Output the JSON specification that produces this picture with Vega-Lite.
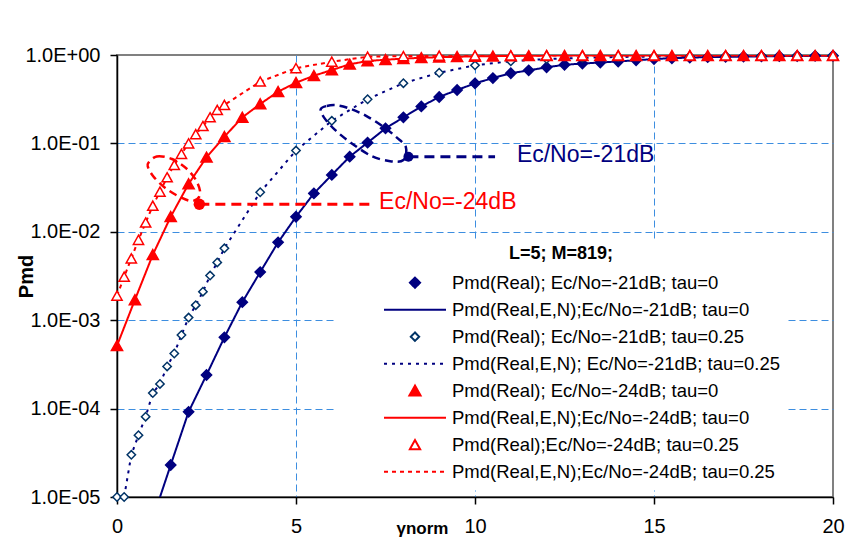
{
  "$schema": "https://vega.github.io/schema/vega-lite/v6.json",
  "width": 716,
  "height": 442,
  "autosize": {"type": "none"},
  "padding": {"left": 117, "top": 55, "right": 28, "bottom": 54},
  "background": "white",
  "config": {
    "font": "Liberation Sans",
    "view": {"stroke": "#808080", "strokeWidth": 2},
    "axis": {
      "labelFont": "Liberation Sans", "titleFont": "Liberation Sans",
      "labelColor": "black", "titleColor": "black",
      "domainColor": "black", "domainWidth": 1.5,
      "tickColor": "black", "tickWidth": 1.5, "tickSize": 7,
      "gridDash": [7, 4], "gridWidth": 1
    },
    "legend": {"labelFont": "Liberation Sans", "titleFont": "Liberation Sans"}
  },
  "datasets": {
    "pts": [
      {"series": "Pmd(Real); Ec/No=-21dB; tau=0", "x": 1.5, "pmd": 0.000023},
      {"series": "Pmd(Real); Ec/No=-21dB; tau=0", "x": 2.0, "pmd": 0.000092},
      {"series": "Pmd(Real); Ec/No=-21dB; tau=0", "x": 2.5, "pmd": 0.00024},
      {"series": "Pmd(Real); Ec/No=-21dB; tau=0", "x": 3.0, "pmd": 0.00064},
      {"series": "Pmd(Real); Ec/No=-21dB; tau=0", "x": 3.5, "pmd": 0.0016},
      {"series": "Pmd(Real); Ec/No=-21dB; tau=0", "x": 4.0, "pmd": 0.0035},
      {"series": "Pmd(Real); Ec/No=-21dB; tau=0", "x": 4.5, "pmd": 0.0076},
      {"series": "Pmd(Real); Ec/No=-21dB; tau=0", "x": 5.0, "pmd": 0.0148},
      {"series": "Pmd(Real); Ec/No=-21dB; tau=0", "x": 5.5, "pmd": 0.0272},
      {"series": "Pmd(Real); Ec/No=-21dB; tau=0", "x": 6.0, "pmd": 0.044},
      {"series": "Pmd(Real); Ec/No=-21dB; tau=0", "x": 6.5, "pmd": 0.0708},
      {"series": "Pmd(Real); Ec/No=-21dB; tau=0", "x": 7.0, "pmd": 0.102},
      {"series": "Pmd(Real); Ec/No=-21dB; tau=0", "x": 7.5, "pmd": 0.148},
      {"series": "Pmd(Real); Ec/No=-21dB; tau=0", "x": 8.0, "pmd": 0.197},
      {"series": "Pmd(Real); Ec/No=-21dB; tau=0", "x": 8.5, "pmd": 0.262},
      {"series": "Pmd(Real); Ec/No=-21dB; tau=0", "x": 9.0, "pmd": 0.335},
      {"series": "Pmd(Real); Ec/No=-21dB; tau=0", "x": 9.5, "pmd": 0.402},
      {"series": "Pmd(Real); Ec/No=-21dB; tau=0", "x": 10.0, "pmd": 0.478},
      {"series": "Pmd(Real); Ec/No=-21dB; tau=0", "x": 10.5, "pmd": 0.548},
      {"series": "Pmd(Real); Ec/No=-21dB; tau=0", "x": 11.0, "pmd": 0.622},
      {"series": "Pmd(Real); Ec/No=-21dB; tau=0", "x": 11.5, "pmd": 0.67},
      {"series": "Pmd(Real); Ec/No=-21dB; tau=0", "x": 12.0, "pmd": 0.726},
      {"series": "Pmd(Real); Ec/No=-21dB; tau=0", "x": 12.5, "pmd": 0.775},
      {"series": "Pmd(Real); Ec/No=-21dB; tau=0", "x": 13.0, "pmd": 0.8},
      {"series": "Pmd(Real); Ec/No=-21dB; tau=0", "x": 13.5, "pmd": 0.822},
      {"series": "Pmd(Real); Ec/No=-21dB; tau=0", "x": 14.0, "pmd": 0.845},
      {"series": "Pmd(Real); Ec/No=-21dB; tau=0", "x": 14.5, "pmd": 0.872},
      {"series": "Pmd(Real); Ec/No=-21dB; tau=0", "x": 15.0, "pmd": 0.9},
      {"series": "Pmd(Real); Ec/No=-21dB; tau=0", "x": 15.5, "pmd": 0.92},
      {"series": "Pmd(Real); Ec/No=-21dB; tau=0", "x": 16.0, "pmd": 0.935},
      {"series": "Pmd(Real); Ec/No=-21dB; tau=0", "x": 16.5, "pmd": 0.945},
      {"series": "Pmd(Real); Ec/No=-21dB; tau=0", "x": 17.0, "pmd": 0.955},
      {"series": "Pmd(Real); Ec/No=-21dB; tau=0", "x": 17.5, "pmd": 0.96},
      {"series": "Pmd(Real); Ec/No=-21dB; tau=0", "x": 18.0, "pmd": 0.965},
      {"series": "Pmd(Real); Ec/No=-21dB; tau=0", "x": 18.5, "pmd": 0.97},
      {"series": "Pmd(Real); Ec/No=-21dB; tau=0", "x": 19.0, "pmd": 0.975},
      {"series": "Pmd(Real); Ec/No=-21dB; tau=0", "x": 19.5, "pmd": 0.978},
      {"series": "Pmd(Real); Ec/No=-21dB; tau=0", "x": 20.0, "pmd": 0.98},
      {"series": "Pmd(Real); Ec/No=-21dB; tau=0.25", "x": 0.0, "pmd": 0.00001},
      {"series": "Pmd(Real); Ec/No=-21dB; tau=0.25", "x": 0.2, "pmd": 0.00001},
      {"series": "Pmd(Real); Ec/No=-21dB; tau=0.25", "x": 0.4, "pmd": 0.00003},
      {"series": "Pmd(Real); Ec/No=-21dB; tau=0.25", "x": 0.6, "pmd": 0.00005},
      {"series": "Pmd(Real); Ec/No=-21dB; tau=0.25", "x": 0.8, "pmd": 0.000081},
      {"series": "Pmd(Real); Ec/No=-21dB; tau=0.25", "x": 1.0, "pmd": 0.00015},
      {"series": "Pmd(Real); Ec/No=-21dB; tau=0.25", "x": 1.2, "pmd": 0.00019},
      {"series": "Pmd(Real); Ec/No=-21dB; tau=0.25", "x": 1.4, "pmd": 0.0003},
      {"series": "Pmd(Real); Ec/No=-21dB; tau=0.25", "x": 1.6, "pmd": 0.00042},
      {"series": "Pmd(Real); Ec/No=-21dB; tau=0.25", "x": 1.8, "pmd": 0.00068},
      {"series": "Pmd(Real); Ec/No=-21dB; tau=0.25", "x": 2.0, "pmd": 0.00107},
      {"series": "Pmd(Real); Ec/No=-21dB; tau=0.25", "x": 2.2, "pmd": 0.00148},
      {"series": "Pmd(Real); Ec/No=-21dB; tau=0.25", "x": 2.4, "pmd": 0.0021},
      {"series": "Pmd(Real); Ec/No=-21dB; tau=0.25", "x": 2.6, "pmd": 0.0032},
      {"series": "Pmd(Real); Ec/No=-21dB; tau=0.25", "x": 2.8, "pmd": 0.0045},
      {"series": "Pmd(Real); Ec/No=-21dB; tau=0.25", "x": 3.0, "pmd": 0.0065},
      {"series": "Pmd(Real); Ec/No=-21dB; tau=0.25", "x": 4.0, "pmd": 0.028},
      {"series": "Pmd(Real); Ec/No=-21dB; tau=0.25", "x": 5.0, "pmd": 0.083},
      {"series": "Pmd(Real); Ec/No=-21dB; tau=0.25", "x": 6.0, "pmd": 0.18},
      {"series": "Pmd(Real); Ec/No=-21dB; tau=0.25", "x": 7.0, "pmd": 0.316},
      {"series": "Pmd(Real); Ec/No=-21dB; tau=0.25", "x": 8.0, "pmd": 0.48},
      {"series": "Pmd(Real); Ec/No=-21dB; tau=0.25", "x": 9.0, "pmd": 0.63},
      {"series": "Pmd(Real); Ec/No=-21dB; tau=0.25", "x": 10.0, "pmd": 0.765},
      {"series": "Pmd(Real); Ec/No=-21dB; tau=0.25", "x": 11.0, "pmd": 0.85},
      {"series": "Pmd(Real); Ec/No=-21dB; tau=0.25", "x": 12.0, "pmd": 0.9},
      {"series": "Pmd(Real); Ec/No=-21dB; tau=0.25", "x": 13.0, "pmd": 0.93},
      {"series": "Pmd(Real); Ec/No=-21dB; tau=0.25", "x": 14.0, "pmd": 0.95},
      {"series": "Pmd(Real); Ec/No=-21dB; tau=0.25", "x": 15.0, "pmd": 0.96},
      {"series": "Pmd(Real); Ec/No=-21dB; tau=0.25", "x": 16.0, "pmd": 0.97},
      {"series": "Pmd(Real); Ec/No=-21dB; tau=0.25", "x": 17.0, "pmd": 0.975},
      {"series": "Pmd(Real); Ec/No=-21dB; tau=0.25", "x": 18.0, "pmd": 0.978},
      {"series": "Pmd(Real); Ec/No=-21dB; tau=0.25", "x": 19.0, "pmd": 0.98},
      {"series": "Pmd(Real); Ec/No=-21dB; tau=0.25", "x": 20.0, "pmd": 0.98},
      {"series": "Pmd(Real); Ec/No=-24dB; tau=0", "x": 0.0, "pmd": 0.000515},
      {"series": "Pmd(Real); Ec/No=-24dB; tau=0", "x": 0.5, "pmd": 0.0017},
      {"series": "Pmd(Real); Ec/No=-24dB; tau=0", "x": 1.0, "pmd": 0.0055},
      {"series": "Pmd(Real); Ec/No=-24dB; tau=0", "x": 1.5, "pmd": 0.0148},
      {"series": "Pmd(Real); Ec/No=-24dB; tau=0", "x": 2.0, "pmd": 0.0348},
      {"series": "Pmd(Real); Ec/No=-24dB; tau=0", "x": 2.5, "pmd": 0.0696},
      {"series": "Pmd(Real); Ec/No=-24dB; tau=0", "x": 3.0, "pmd": 0.119},
      {"series": "Pmd(Real); Ec/No=-24dB; tau=0", "x": 3.5, "pmd": 0.197},
      {"series": "Pmd(Real); Ec/No=-24dB; tau=0", "x": 4.0, "pmd": 0.279},
      {"series": "Pmd(Real); Ec/No=-24dB; tau=0", "x": 4.5, "pmd": 0.385},
      {"series": "Pmd(Real); Ec/No=-24dB; tau=0", "x": 5.0, "pmd": 0.486},
      {"series": "Pmd(Real); Ec/No=-24dB; tau=0", "x": 5.5, "pmd": 0.583},
      {"series": "Pmd(Real); Ec/No=-24dB; tau=0", "x": 6.0, "pmd": 0.676},
      {"series": "Pmd(Real); Ec/No=-24dB; tau=0", "x": 6.5, "pmd": 0.785},
      {"series": "Pmd(Real); Ec/No=-24dB; tau=0", "x": 7.0, "pmd": 0.855},
      {"series": "Pmd(Real); Ec/No=-24dB; tau=0", "x": 7.5, "pmd": 0.885},
      {"series": "Pmd(Real); Ec/No=-24dB; tau=0", "x": 8.0, "pmd": 0.91},
      {"series": "Pmd(Real); Ec/No=-24dB; tau=0", "x": 8.5, "pmd": 0.93},
      {"series": "Pmd(Real); Ec/No=-24dB; tau=0", "x": 9.0, "pmd": 0.945},
      {"series": "Pmd(Real); Ec/No=-24dB; tau=0", "x": 9.5, "pmd": 0.955},
      {"series": "Pmd(Real); Ec/No=-24dB; tau=0", "x": 10.0, "pmd": 0.965},
      {"series": "Pmd(Real); Ec/No=-24dB; tau=0", "x": 10.5, "pmd": 0.97},
      {"series": "Pmd(Real); Ec/No=-24dB; tau=0", "x": 11.0, "pmd": 0.975},
      {"series": "Pmd(Real); Ec/No=-24dB; tau=0", "x": 11.5, "pmd": 0.98},
      {"series": "Pmd(Real); Ec/No=-24dB; tau=0", "x": 12.0, "pmd": 0.985},
      {"series": "Pmd(Real); Ec/No=-24dB; tau=0", "x": 12.5, "pmd": 0.985},
      {"series": "Pmd(Real); Ec/No=-24dB; tau=0", "x": 13.0, "pmd": 0.985},
      {"series": "Pmd(Real); Ec/No=-24dB; tau=0", "x": 13.5, "pmd": 0.985},
      {"series": "Pmd(Real); Ec/No=-24dB; tau=0", "x": 14.0, "pmd": 0.985},
      {"series": "Pmd(Real); Ec/No=-24dB; tau=0", "x": 14.5, "pmd": 0.985},
      {"series": "Pmd(Real); Ec/No=-24dB; tau=0", "x": 15.0, "pmd": 0.985},
      {"series": "Pmd(Real); Ec/No=-24dB; tau=0", "x": 15.5, "pmd": 0.985},
      {"series": "Pmd(Real); Ec/No=-24dB; tau=0", "x": 16.0, "pmd": 0.985},
      {"series": "Pmd(Real); Ec/No=-24dB; tau=0", "x": 16.5, "pmd": 0.985},
      {"series": "Pmd(Real); Ec/No=-24dB; tau=0", "x": 17.0, "pmd": 0.985},
      {"series": "Pmd(Real); Ec/No=-24dB; tau=0", "x": 17.5, "pmd": 0.985},
      {"series": "Pmd(Real); Ec/No=-24dB; tau=0", "x": 18.0, "pmd": 0.985},
      {"series": "Pmd(Real); Ec/No=-24dB; tau=0", "x": 18.5, "pmd": 0.985},
      {"series": "Pmd(Real); Ec/No=-24dB; tau=0", "x": 19.0, "pmd": 0.985},
      {"series": "Pmd(Real); Ec/No=-24dB; tau=0", "x": 19.5, "pmd": 0.985},
      {"series": "Pmd(Real); Ec/No=-24dB; tau=0", "x": 20.0, "pmd": 0.985},
      {"series": "Pmd(Real);Ec/No=-24dB; tau=0.25", "x": 0.0, "pmd": 0.00189},
      {"series": "Pmd(Real);Ec/No=-24dB; tau=0.25", "x": 0.2, "pmd": 0.0031},
      {"series": "Pmd(Real);Ec/No=-24dB; tau=0.25", "x": 0.4, "pmd": 0.005},
      {"series": "Pmd(Real);Ec/No=-24dB; tau=0.25", "x": 0.6, "pmd": 0.0081},
      {"series": "Pmd(Real);Ec/No=-24dB; tau=0.25", "x": 0.8, "pmd": 0.0127},
      {"series": "Pmd(Real);Ec/No=-24dB; tau=0.25", "x": 1.0, "pmd": 0.0197},
      {"series": "Pmd(Real);Ec/No=-24dB; tau=0.25", "x": 1.2, "pmd": 0.0284},
      {"series": "Pmd(Real);Ec/No=-24dB; tau=0.25", "x": 1.4, "pmd": 0.0413},
      {"series": "Pmd(Real);Ec/No=-24dB; tau=0.25", "x": 1.6, "pmd": 0.057},
      {"series": "Pmd(Real);Ec/No=-24dB; tau=0.25", "x": 1.8, "pmd": 0.076},
      {"series": "Pmd(Real);Ec/No=-24dB; tau=0.25", "x": 2.0, "pmd": 0.1},
      {"series": "Pmd(Real);Ec/No=-24dB; tau=0.25", "x": 2.2, "pmd": 0.127},
      {"series": "Pmd(Real);Ec/No=-24dB; tau=0.25", "x": 2.4, "pmd": 0.157},
      {"series": "Pmd(Real);Ec/No=-24dB; tau=0.25", "x": 2.6, "pmd": 0.197},
      {"series": "Pmd(Real);Ec/No=-24dB; tau=0.25", "x": 2.8, "pmd": 0.239},
      {"series": "Pmd(Real);Ec/No=-24dB; tau=0.25", "x": 3.0, "pmd": 0.272},
      {"series": "Pmd(Real);Ec/No=-24dB; tau=0.25", "x": 4.0, "pmd": 0.5},
      {"series": "Pmd(Real);Ec/No=-24dB; tau=0.25", "x": 5.0, "pmd": 0.71},
      {"series": "Pmd(Real);Ec/No=-24dB; tau=0.25", "x": 6.0, "pmd": 0.84},
      {"series": "Pmd(Real);Ec/No=-24dB; tau=0.25", "x": 7.0, "pmd": 0.957},
      {"series": "Pmd(Real);Ec/No=-24dB; tau=0.25", "x": 8.0, "pmd": 0.97},
      {"series": "Pmd(Real);Ec/No=-24dB; tau=0.25", "x": 9.0, "pmd": 0.98},
      {"series": "Pmd(Real);Ec/No=-24dB; tau=0.25", "x": 10.0, "pmd": 0.985},
      {"series": "Pmd(Real);Ec/No=-24dB; tau=0.25", "x": 11.0, "pmd": 0.985},
      {"series": "Pmd(Real);Ec/No=-24dB; tau=0.25", "x": 12.0, "pmd": 0.985},
      {"series": "Pmd(Real);Ec/No=-24dB; tau=0.25", "x": 13.0, "pmd": 0.985},
      {"series": "Pmd(Real);Ec/No=-24dB; tau=0.25", "x": 14.0, "pmd": 0.985},
      {"series": "Pmd(Real);Ec/No=-24dB; tau=0.25", "x": 15.0, "pmd": 0.985},
      {"series": "Pmd(Real);Ec/No=-24dB; tau=0.25", "x": 16.0, "pmd": 0.985},
      {"series": "Pmd(Real);Ec/No=-24dB; tau=0.25", "x": 17.0, "pmd": 0.985},
      {"series": "Pmd(Real);Ec/No=-24dB; tau=0.25", "x": 18.0, "pmd": 0.985},
      {"series": "Pmd(Real);Ec/No=-24dB; tau=0.25", "x": 19.0, "pmd": 0.985},
      {"series": "Pmd(Real);Ec/No=-24dB; tau=0.25", "x": 20.0, "pmd": 0.985}
    ],
    "lines": [
      {"series": "Pmd(Real,E,N);Ec/No=-21dB; tau=0", "x": 1.0, "pmd": 0.0000057},
      {"series": "Pmd(Real,E,N);Ec/No=-21dB; tau=0", "x": 1.5, "pmd": 0.000023},
      {"series": "Pmd(Real,E,N);Ec/No=-21dB; tau=0", "x": 2.0, "pmd": 0.000092},
      {"series": "Pmd(Real,E,N);Ec/No=-21dB; tau=0", "x": 2.5, "pmd": 0.00024},
      {"series": "Pmd(Real,E,N);Ec/No=-21dB; tau=0", "x": 3.0, "pmd": 0.00064},
      {"series": "Pmd(Real,E,N);Ec/No=-21dB; tau=0", "x": 3.5, "pmd": 0.0016},
      {"series": "Pmd(Real,E,N);Ec/No=-21dB; tau=0", "x": 4.0, "pmd": 0.0035},
      {"series": "Pmd(Real,E,N);Ec/No=-21dB; tau=0", "x": 4.5, "pmd": 0.0076},
      {"series": "Pmd(Real,E,N);Ec/No=-21dB; tau=0", "x": 5.0, "pmd": 0.0148},
      {"series": "Pmd(Real,E,N);Ec/No=-21dB; tau=0", "x": 5.5, "pmd": 0.0272},
      {"series": "Pmd(Real,E,N);Ec/No=-21dB; tau=0", "x": 6.0, "pmd": 0.044},
      {"series": "Pmd(Real,E,N);Ec/No=-21dB; tau=0", "x": 6.5, "pmd": 0.0708},
      {"series": "Pmd(Real,E,N);Ec/No=-21dB; tau=0", "x": 7.0, "pmd": 0.102},
      {"series": "Pmd(Real,E,N);Ec/No=-21dB; tau=0", "x": 7.5, "pmd": 0.148},
      {"series": "Pmd(Real,E,N);Ec/No=-21dB; tau=0", "x": 8.0, "pmd": 0.197},
      {"series": "Pmd(Real,E,N);Ec/No=-21dB; tau=0", "x": 8.5, "pmd": 0.262},
      {"series": "Pmd(Real,E,N);Ec/No=-21dB; tau=0", "x": 9.0, "pmd": 0.335},
      {"series": "Pmd(Real,E,N);Ec/No=-21dB; tau=0", "x": 9.5, "pmd": 0.402},
      {"series": "Pmd(Real,E,N);Ec/No=-21dB; tau=0", "x": 10.0, "pmd": 0.478},
      {"series": "Pmd(Real,E,N);Ec/No=-21dB; tau=0", "x": 10.5, "pmd": 0.548},
      {"series": "Pmd(Real,E,N);Ec/No=-21dB; tau=0", "x": 11.0, "pmd": 0.622},
      {"series": "Pmd(Real,E,N);Ec/No=-21dB; tau=0", "x": 11.5, "pmd": 0.67},
      {"series": "Pmd(Real,E,N);Ec/No=-21dB; tau=0", "x": 12.0, "pmd": 0.726},
      {"series": "Pmd(Real,E,N);Ec/No=-21dB; tau=0", "x": 12.5, "pmd": 0.775},
      {"series": "Pmd(Real,E,N);Ec/No=-21dB; tau=0", "x": 13.0, "pmd": 0.8},
      {"series": "Pmd(Real,E,N);Ec/No=-21dB; tau=0", "x": 13.5, "pmd": 0.822},
      {"series": "Pmd(Real,E,N);Ec/No=-21dB; tau=0", "x": 14.0, "pmd": 0.845},
      {"series": "Pmd(Real,E,N);Ec/No=-21dB; tau=0", "x": 14.5, "pmd": 0.872},
      {"series": "Pmd(Real,E,N);Ec/No=-21dB; tau=0", "x": 15.0, "pmd": 0.9},
      {"series": "Pmd(Real,E,N);Ec/No=-21dB; tau=0", "x": 15.5, "pmd": 0.92},
      {"series": "Pmd(Real,E,N);Ec/No=-21dB; tau=0", "x": 16.0, "pmd": 0.935},
      {"series": "Pmd(Real,E,N);Ec/No=-21dB; tau=0", "x": 16.5, "pmd": 0.945},
      {"series": "Pmd(Real,E,N);Ec/No=-21dB; tau=0", "x": 17.0, "pmd": 0.955},
      {"series": "Pmd(Real,E,N);Ec/No=-21dB; tau=0", "x": 17.5, "pmd": 0.96},
      {"series": "Pmd(Real,E,N);Ec/No=-21dB; tau=0", "x": 18.0, "pmd": 0.965},
      {"series": "Pmd(Real,E,N);Ec/No=-21dB; tau=0", "x": 18.5, "pmd": 0.97},
      {"series": "Pmd(Real,E,N);Ec/No=-21dB; tau=0", "x": 19.0, "pmd": 0.975},
      {"series": "Pmd(Real,E,N);Ec/No=-21dB; tau=0", "x": 19.5, "pmd": 0.978},
      {"series": "Pmd(Real,E,N);Ec/No=-21dB; tau=0", "x": 20.0, "pmd": 0.98},
      {"series": "Pmd(Real,E,N); Ec/No=-21dB; tau=0.25", "x": 0.2, "pmd": 0.00001},
      {"series": "Pmd(Real,E,N); Ec/No=-21dB; tau=0.25", "x": 0.4, "pmd": 0.00003},
      {"series": "Pmd(Real,E,N); Ec/No=-21dB; tau=0.25", "x": 0.6, "pmd": 0.00005},
      {"series": "Pmd(Real,E,N); Ec/No=-21dB; tau=0.25", "x": 0.8, "pmd": 0.000081},
      {"series": "Pmd(Real,E,N); Ec/No=-21dB; tau=0.25", "x": 1.0, "pmd": 0.00015},
      {"series": "Pmd(Real,E,N); Ec/No=-21dB; tau=0.25", "x": 1.2, "pmd": 0.00019},
      {"series": "Pmd(Real,E,N); Ec/No=-21dB; tau=0.25", "x": 1.4, "pmd": 0.0003},
      {"series": "Pmd(Real,E,N); Ec/No=-21dB; tau=0.25", "x": 1.6, "pmd": 0.00042},
      {"series": "Pmd(Real,E,N); Ec/No=-21dB; tau=0.25", "x": 1.8, "pmd": 0.00068},
      {"series": "Pmd(Real,E,N); Ec/No=-21dB; tau=0.25", "x": 2.0, "pmd": 0.00107},
      {"series": "Pmd(Real,E,N); Ec/No=-21dB; tau=0.25", "x": 2.2, "pmd": 0.00148},
      {"series": "Pmd(Real,E,N); Ec/No=-21dB; tau=0.25", "x": 2.4, "pmd": 0.0021},
      {"series": "Pmd(Real,E,N); Ec/No=-21dB; tau=0.25", "x": 2.6, "pmd": 0.0032},
      {"series": "Pmd(Real,E,N); Ec/No=-21dB; tau=0.25", "x": 2.8, "pmd": 0.0045},
      {"series": "Pmd(Real,E,N); Ec/No=-21dB; tau=0.25", "x": 3.0, "pmd": 0.0065},
      {"series": "Pmd(Real,E,N); Ec/No=-21dB; tau=0.25", "x": 4.0, "pmd": 0.028},
      {"series": "Pmd(Real,E,N); Ec/No=-21dB; tau=0.25", "x": 5.0, "pmd": 0.083},
      {"series": "Pmd(Real,E,N); Ec/No=-21dB; tau=0.25", "x": 6.0, "pmd": 0.18},
      {"series": "Pmd(Real,E,N); Ec/No=-21dB; tau=0.25", "x": 7.0, "pmd": 0.316},
      {"series": "Pmd(Real,E,N); Ec/No=-21dB; tau=0.25", "x": 8.0, "pmd": 0.48},
      {"series": "Pmd(Real,E,N); Ec/No=-21dB; tau=0.25", "x": 9.0, "pmd": 0.63},
      {"series": "Pmd(Real,E,N); Ec/No=-21dB; tau=0.25", "x": 10.0, "pmd": 0.765},
      {"series": "Pmd(Real,E,N); Ec/No=-21dB; tau=0.25", "x": 11.0, "pmd": 0.85},
      {"series": "Pmd(Real,E,N); Ec/No=-21dB; tau=0.25", "x": 12.0, "pmd": 0.9},
      {"series": "Pmd(Real,E,N); Ec/No=-21dB; tau=0.25", "x": 13.0, "pmd": 0.93},
      {"series": "Pmd(Real,E,N); Ec/No=-21dB; tau=0.25", "x": 14.0, "pmd": 0.95},
      {"series": "Pmd(Real,E,N); Ec/No=-21dB; tau=0.25", "x": 15.0, "pmd": 0.96},
      {"series": "Pmd(Real,E,N); Ec/No=-21dB; tau=0.25", "x": 16.0, "pmd": 0.97},
      {"series": "Pmd(Real,E,N); Ec/No=-21dB; tau=0.25", "x": 17.0, "pmd": 0.975},
      {"series": "Pmd(Real,E,N); Ec/No=-21dB; tau=0.25", "x": 18.0, "pmd": 0.978},
      {"series": "Pmd(Real,E,N); Ec/No=-21dB; tau=0.25", "x": 19.0, "pmd": 0.98},
      {"series": "Pmd(Real,E,N); Ec/No=-21dB; tau=0.25", "x": 20.0, "pmd": 0.98},
      {"series": "Pmd(Real,E,N);Ec/No=-24dB; tau=0", "x": 0.0, "pmd": 0.000515},
      {"series": "Pmd(Real,E,N);Ec/No=-24dB; tau=0", "x": 0.5, "pmd": 0.0017},
      {"series": "Pmd(Real,E,N);Ec/No=-24dB; tau=0", "x": 1.0, "pmd": 0.0055},
      {"series": "Pmd(Real,E,N);Ec/No=-24dB; tau=0", "x": 1.5, "pmd": 0.0148},
      {"series": "Pmd(Real,E,N);Ec/No=-24dB; tau=0", "x": 2.0, "pmd": 0.0348},
      {"series": "Pmd(Real,E,N);Ec/No=-24dB; tau=0", "x": 2.5, "pmd": 0.0696},
      {"series": "Pmd(Real,E,N);Ec/No=-24dB; tau=0", "x": 3.0, "pmd": 0.119},
      {"series": "Pmd(Real,E,N);Ec/No=-24dB; tau=0", "x": 3.5, "pmd": 0.197},
      {"series": "Pmd(Real,E,N);Ec/No=-24dB; tau=0", "x": 4.0, "pmd": 0.279},
      {"series": "Pmd(Real,E,N);Ec/No=-24dB; tau=0", "x": 4.5, "pmd": 0.385},
      {"series": "Pmd(Real,E,N);Ec/No=-24dB; tau=0", "x": 5.0, "pmd": 0.486},
      {"series": "Pmd(Real,E,N);Ec/No=-24dB; tau=0", "x": 5.5, "pmd": 0.583},
      {"series": "Pmd(Real,E,N);Ec/No=-24dB; tau=0", "x": 6.0, "pmd": 0.676},
      {"series": "Pmd(Real,E,N);Ec/No=-24dB; tau=0", "x": 6.5, "pmd": 0.785},
      {"series": "Pmd(Real,E,N);Ec/No=-24dB; tau=0", "x": 7.0, "pmd": 0.855},
      {"series": "Pmd(Real,E,N);Ec/No=-24dB; tau=0", "x": 7.5, "pmd": 0.885},
      {"series": "Pmd(Real,E,N);Ec/No=-24dB; tau=0", "x": 8.0, "pmd": 0.91},
      {"series": "Pmd(Real,E,N);Ec/No=-24dB; tau=0", "x": 8.5, "pmd": 0.93},
      {"series": "Pmd(Real,E,N);Ec/No=-24dB; tau=0", "x": 9.0, "pmd": 0.945},
      {"series": "Pmd(Real,E,N);Ec/No=-24dB; tau=0", "x": 9.5, "pmd": 0.955},
      {"series": "Pmd(Real,E,N);Ec/No=-24dB; tau=0", "x": 10.0, "pmd": 0.965},
      {"series": "Pmd(Real,E,N);Ec/No=-24dB; tau=0", "x": 10.5, "pmd": 0.97},
      {"series": "Pmd(Real,E,N);Ec/No=-24dB; tau=0", "x": 11.0, "pmd": 0.975},
      {"series": "Pmd(Real,E,N);Ec/No=-24dB; tau=0", "x": 11.5, "pmd": 0.98},
      {"series": "Pmd(Real,E,N);Ec/No=-24dB; tau=0", "x": 12.0, "pmd": 0.985},
      {"series": "Pmd(Real,E,N);Ec/No=-24dB; tau=0", "x": 16.0, "pmd": 0.985},
      {"series": "Pmd(Real,E,N);Ec/No=-24dB; tau=0", "x": 20.0, "pmd": 0.985},
      {"series": "Pmd(Real,E,N);Ec/No=-24dB; tau=0.25", "x": 0.0, "pmd": 0.00189},
      {"series": "Pmd(Real,E,N);Ec/No=-24dB; tau=0.25", "x": 0.2, "pmd": 0.0031},
      {"series": "Pmd(Real,E,N);Ec/No=-24dB; tau=0.25", "x": 0.4, "pmd": 0.005},
      {"series": "Pmd(Real,E,N);Ec/No=-24dB; tau=0.25", "x": 0.6, "pmd": 0.0081},
      {"series": "Pmd(Real,E,N);Ec/No=-24dB; tau=0.25", "x": 0.8, "pmd": 0.0127},
      {"series": "Pmd(Real,E,N);Ec/No=-24dB; tau=0.25", "x": 1.0, "pmd": 0.0197},
      {"series": "Pmd(Real,E,N);Ec/No=-24dB; tau=0.25", "x": 1.2, "pmd": 0.0284},
      {"series": "Pmd(Real,E,N);Ec/No=-24dB; tau=0.25", "x": 1.4, "pmd": 0.0413},
      {"series": "Pmd(Real,E,N);Ec/No=-24dB; tau=0.25", "x": 1.6, "pmd": 0.057},
      {"series": "Pmd(Real,E,N);Ec/No=-24dB; tau=0.25", "x": 1.8, "pmd": 0.076},
      {"series": "Pmd(Real,E,N);Ec/No=-24dB; tau=0.25", "x": 2.0, "pmd": 0.1},
      {"series": "Pmd(Real,E,N);Ec/No=-24dB; tau=0.25", "x": 2.2, "pmd": 0.127},
      {"series": "Pmd(Real,E,N);Ec/No=-24dB; tau=0.25", "x": 2.4, "pmd": 0.157},
      {"series": "Pmd(Real,E,N);Ec/No=-24dB; tau=0.25", "x": 2.6, "pmd": 0.197},
      {"series": "Pmd(Real,E,N);Ec/No=-24dB; tau=0.25", "x": 2.8, "pmd": 0.239},
      {"series": "Pmd(Real,E,N);Ec/No=-24dB; tau=0.25", "x": 3.0, "pmd": 0.272},
      {"series": "Pmd(Real,E,N);Ec/No=-24dB; tau=0.25", "x": 4.0, "pmd": 0.5},
      {"series": "Pmd(Real,E,N);Ec/No=-24dB; tau=0.25", "x": 5.0, "pmd": 0.71},
      {"series": "Pmd(Real,E,N);Ec/No=-24dB; tau=0.25", "x": 6.0, "pmd": 0.84},
      {"series": "Pmd(Real,E,N);Ec/No=-24dB; tau=0.25", "x": 7.0, "pmd": 0.957},
      {"series": "Pmd(Real,E,N);Ec/No=-24dB; tau=0.25", "x": 8.0, "pmd": 0.97},
      {"series": "Pmd(Real,E,N);Ec/No=-24dB; tau=0.25", "x": 9.0, "pmd": 0.98},
      {"series": "Pmd(Real,E,N);Ec/No=-24dB; tau=0.25", "x": 10.0, "pmd": 0.985},
      {"series": "Pmd(Real,E,N);Ec/No=-24dB; tau=0.25", "x": 20.0, "pmd": 0.985}
    ],
    "ell21": [
      {"x": 5.69, "pmd": 0.243, "ord": 0},
      {"x": 5.86, "pmd": 0.265, "ord": 1},
      {"x": 6.14, "pmd": 0.27, "ord": 2},
      {"x": 6.51, "pmd": 0.247, "ord": 3},
      {"x": 6.97, "pmd": 0.204, "ord": 4},
      {"x": 7.44, "pmd": 0.154, "ord": 5},
      {"x": 7.81, "pmd": 0.117, "ord": 6},
      {"x": 8.07, "pmd": 0.0903, "ord": 7},
      {"x": 8.0, "pmd": 0.0649, "ord": 8},
      {"x": 7.63, "pmd": 0.063, "ord": 9},
      {"x": 7.11, "pmd": 0.072, "ord": 10},
      {"x": 6.56, "pmd": 0.1, "ord": 11},
      {"x": 6.09, "pmd": 0.142, "ord": 12},
      {"x": 5.78, "pmd": 0.197, "ord": 13}
    ],
    "ell24": [
      {"x": 0.874, "pmd": 0.06, "ord": 0},
      {"x": 1.109, "pmd": 0.0711, "ord": 1},
      {"x": 1.536, "pmd": 0.0666, "ord": 2},
      {"x": 1.955, "pmd": 0.0513, "ord": 3},
      {"x": 2.235, "pmd": 0.0366, "ord": 4},
      {"x": 2.318, "pmd": 0.0261, "ord": 5},
      {"x": 2.095, "pmd": 0.0223, "ord": 6},
      {"x": 1.704, "pmd": 0.0254, "ord": 7},
      {"x": 1.313, "pmd": 0.0321, "ord": 8},
      {"x": 1.006, "pmd": 0.0428, "ord": 9},
      {"x": 0.866, "pmd": 0.054, "ord": 10}
    ],
    "ptr21": [{"x": 8.14, "pmd": 0.0707}, {"x": 10.56, "pmd": 0.0707}],
    "ptr24": [{"x": 2.3, "pmd": 0.0205}, {"x": 7.1, "pmd": 0.0205}],
    "dot21": [{"x": 8.14, "pmd": 0.0707}],
    "dot24": [{"x": 2.3, "pmd": 0.0205}],
    "lab21": [{"x": 11.17, "pmd": 0.074, "label": "Ec/No=-21dB"}],
    "lab24": [{"x": 7.32, "pmd": 0.0215, "label": "Ec/No=-24dB"}]
  },
  "encoding": {
    "x": {
      "field": "x", "type": "quantitative",
      "scale": {"domain": [0, 20], "nice": false, "zero": false},
      "axis": {
        "values": [0, 5, 10, 15, 20], "format": "d",
        "title": "γnorm", "titleFontSize": 17, "titleFontWeight": "bold",
        "titleX": 305, "titleY": 36, "titleAlign": "center", "titleBaseline": "alphabetic",
        "labelFontSize": 20, "labelPadding": 12, "labelFlush": false,
        "grid": true,
        "gridColor": {"condition": {"test": "datum.value <= 0 || datum.value >= 20", "value": "transparent"}, "value": "#3d8ee0"}
      }
    },
    "y": {
      "field": "pmd", "type": "quantitative",
      "scale": {"type": "log", "domain": [0.00001, 1], "nice": false},
      "axis": {
        "values": [0.00001, 0.0001, 0.001, 0.01, 0.1, 1],
        "labelExpr": "datum.value >= 0.99 ? '1.0E+00' : '1.0E-0' + round(-log(datum.value) / LN10)",
        "title": "Pmd", "titleFontSize": 20, "titleFontWeight": "bold",
        "titleX": -91, "titleY": 221, "titleAngle": -90, "titleAlign": "center", "titleBaseline": "middle",
        "labelFontSize": 20, "labelPadding": 10, "labelFlush": false,
        "grid": true,
        "gridColor": {"condition": {"test": "datum.value >= 0.99 || datum.value <= 0.0000101", "value": "transparent"}, "value": "#3d8ee0"}
      }
    }
  },
  "layer": [
    {
      "data": {"name": "lines"},
      "mark": {"type": "line", "strokeWidth": 2, "clip": true},
      "encoding": {
        "stroke": {
          "field": "series", "type": "nominal",
          "scale": {
            "domain": [
              "Pmd(Real); Ec/No=-21dB; tau=0",
              "Pmd(Real,E,N);Ec/No=-21dB; tau=0",
              "Pmd(Real); Ec/No=-21dB; tau=0.25",
              "Pmd(Real,E,N); Ec/No=-21dB; tau=0.25",
              "Pmd(Real); Ec/No=-24dB; tau=0",
              "Pmd(Real,E,N);Ec/No=-24dB; tau=0",
              "Pmd(Real);Ec/No=-24dB; tau=0.25",
              "Pmd(Real,E,N);Ec/No=-24dB; tau=0.25"
            ],
            "range": ["#000080", "#000080", "#003366", "#000080", "#ff0000", "#ff0000", "#ff0000", "#ff0000"]
          },
          "legend": {
            "title": "L=5; M=819;",
            "orient": "none", "legendX": 220, "legendY": 184.5,
            "padding": 5, "fillColor": "white",
            "symbolSize": 3844, "clipHeight": 26.4, "rowPadding": 0,
            "symbolOffset": 41, "labelOffset": 5,
            "labelFontSize": 18.5, "labelColor": "black", "labelLimit": 500,
            "titleFontSize": 18, "titleFontWeight": "bold", "titleColor": "black",
            "titleAnchor": "middle", "titlePadding": 7,
            "symbolStrokeWidth": 2, "symbolOpacity": 1
          }
        },
        "strokeDash": {
          "field": "series", "type": "nominal",
          "scale": {
            "domain": [
              "Pmd(Real); Ec/No=-21dB; tau=0",
              "Pmd(Real,E,N);Ec/No=-21dB; tau=0",
              "Pmd(Real); Ec/No=-21dB; tau=0.25",
              "Pmd(Real,E,N); Ec/No=-21dB; tau=0.25",
              "Pmd(Real); Ec/No=-24dB; tau=0",
              "Pmd(Real,E,N);Ec/No=-24dB; tau=0",
              "Pmd(Real);Ec/No=-24dB; tau=0.25",
              "Pmd(Real,E,N);Ec/No=-24dB; tau=0.25"
            ],
            "range": [[1, 0], [1, 0], [1, 0], [3, 5], [1, 0], [1, 0], [1, 0], [4, 4]]
          }
        }
      }
    },
    {
      "data": {"name": "pts"},
      "mark": {"type": "point", "filled": true, "opacity": 1, "strokeWidth": 1.5, "size": 3844},
      "encoding": {
        "stroke": {"field": "series", "type": "nominal"},
        "fill": {
          "field": "series", "type": "nominal",
          "scale": {
            "domain": [
              "Pmd(Real); Ec/No=-21dB; tau=0",
              "Pmd(Real,E,N);Ec/No=-21dB; tau=0",
              "Pmd(Real); Ec/No=-21dB; tau=0.25",
              "Pmd(Real,E,N); Ec/No=-21dB; tau=0.25",
              "Pmd(Real); Ec/No=-24dB; tau=0",
              "Pmd(Real,E,N);Ec/No=-24dB; tau=0",
              "Pmd(Real);Ec/No=-24dB; tau=0.25",
              "Pmd(Real,E,N);Ec/No=-24dB; tau=0.25"
            ],
            "range": ["#000080", "transparent", "#ffffff", "transparent", "#ff0000", "transparent", "#ffffff", "transparent"]
          }
        },
        "shape": {
          "field": "series", "type": "nominal",
          "scale": {
            "domain": [
              "Pmd(Real); Ec/No=-21dB; tau=0",
              "Pmd(Real,E,N);Ec/No=-21dB; tau=0",
              "Pmd(Real); Ec/No=-21dB; tau=0.25",
              "Pmd(Real,E,N); Ec/No=-21dB; tau=0.25",
              "Pmd(Real); Ec/No=-24dB; tau=0",
              "Pmd(Real,E,N);Ec/No=-24dB; tau=0",
              "Pmd(Real);Ec/No=-24dB; tau=0.25",
              "Pmd(Real,E,N);Ec/No=-24dB; tau=0.25"
            ],
            "range": [
              "M-0.165,0L0,-0.165L0.165,0L0,0.165Z",
              "stroke",
              "M-0.135,0L0,-0.135L0.135,0L0,0.135Z",
              "stroke",
              "M0,-0.165L0.18,0.155L-0.18,0.155Z",
              "stroke",
              "M0,-0.15L0.165,0.145L-0.165,0.145Z",
              "stroke"
            ]
          }
        }
      }
    },
    {
      "data": {"name": "ell21"},
      "mark": {"type": "line", "interpolate": "cardinal-closed", "stroke": "#000080", "strokeWidth": 2.5, "strokeDash": [8, 5]},
      "encoding": {"order": {"field": "ord", "type": "quantitative"}}
    },
    {
      "data": {"name": "ell24"},
      "mark": {"type": "line", "interpolate": "cardinal-closed", "stroke": "#ff0000", "strokeWidth": 2.5, "strokeDash": [8, 5]},
      "encoding": {"order": {"field": "ord", "type": "quantitative"}}
    },
    {
      "data": {"name": "ptr21"},
      "mark": {"type": "line", "stroke": "#000080", "strokeWidth": 3, "strokeDash": [10, 6]},
      "encoding": {}
    },
    {
      "data": {"name": "ptr24"},
      "mark": {"type": "line", "stroke": "#ff0000", "strokeWidth": 3, "strokeDash": [10, 6]},
      "encoding": {}
    },
    {
      "data": {"name": "dot21"},
      "mark": {"type": "circle", "size": 100, "color": "#000080", "opacity": 1}
    },
    {
      "data": {"name": "dot24"},
      "mark": {"type": "circle", "size": 130, "color": "#ff0000", "opacity": 1}
    },
    {
      "data": {"name": "lab21"},
      "mark": {"type": "text", "align": "left", "baseline": "middle", "fontSize": 23, "color": "#000080", "font": "Liberation Sans"},
      "encoding": {"text": {"field": "label", "type": "nominal"}}
    },
    {
      "data": {"name": "lab24"},
      "mark": {"type": "text", "align": "left", "baseline": "middle", "fontSize": 23, "color": "#ff0000", "font": "Liberation Sans"},
      "encoding": {"text": {"field": "label", "type": "nominal"}}
    }
  ]
}
